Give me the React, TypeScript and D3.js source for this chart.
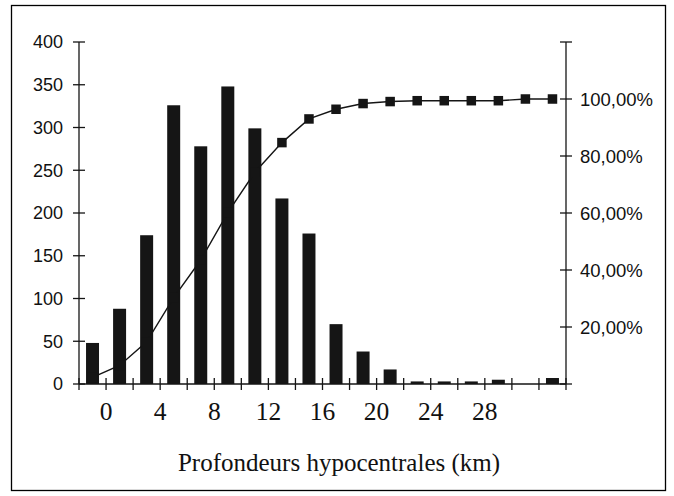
import React from "react";
import * as d3 from "d3";

const categories = ["-2", "0", "2", "4", "6", "8", "10", "12", "14", "16", "18", "20", "22", "24", "26", "28", "30", "32"];
const counts = [48, 88, 174, 326, 278, 348, 299, 217, 176, 70, 38, 17, 3, 3, 3, 5, 0, 7];
const cumulativePct = [2.3, 6.5, 14.8, 30.3, 43.5, 60.1, 74.3, 84.7, 93.0, 96.4, 98.4, 99.1, 99.4, 99.4, 99.4, 99.4, 100, 100];
const leftTicks = [0, 50, 100, 150, 200, 250, 300, 350, 400];
const rightTicks = [0, 20, 40, 60, 80, 100, 120];
const rightLabelTicks = [20, 40, 60, 80, 100];
const xTickLabels = ["0", "4", "8", "12", "16", "20", "24", "28"];
const xTitle = "Profondeurs hypocentrales (km)";

const W = 674;
const H = 496;
const left = 79;
const right = 566;
const top = 42;
const bottom = 384;

export default function App() {
  const x = d3.scaleBand<string>().domain(categories).range([left, right]).paddingInner(0).paddingOuter(0);
  const yL = d3.scaleLinear().domain([0, 400]).range([bottom, top]);
  const yR = d3.scaleLinear().domain([0, 120]).range([bottom, top]);
  const bw = x.bandwidth();
  const barW = bw * 0.48;
  const cx = (c: string) => (x(c) as number) + bw / 2;
  const boundaries = d3.range(categories.length + 1).map((i) => left + i * bw);
  const line = d3
    .line<number>()
    .x((_, i) => cx(categories[i]))
    .y((d) => yR(d));
  const fmtPct = (v: number) => v.toFixed(2).replace(".", ",") + "%";
  const ms = 9.5;
  const sans = "'Liberation Sans', Arial, sans-serif";
  const serif = "'Liberation Serif', 'Times New Roman', serif";
  const ink = "#151515";

  return (
    <svg width={W} height={H} style={{ position: "absolute", left: 0, top: 0, background: "#fff" }}>
      <rect x={11.5} y={5.5} width={654} height={485} fill="#fff" stroke="#000" strokeWidth={1.3} />
      {/* bars */}
      {counts.map((v, i) => (
        <rect key={i} x={cx(categories[i]) - barW / 2} y={yL(v)} width={barW} height={bottom - yL(v)} fill={ink} />
      ))}
      {/* cumulative line */}
      <path d={line(cumulativePct) || ""} fill="none" stroke={ink} strokeWidth={1.4} />
      {cumulativePct.map((v, i) => (
        <rect key={i} x={cx(categories[i]) - ms / 2} y={yR(v) - ms / 2} width={ms} height={ms} fill={ink} />
      ))}
      {/* left axis */}
      <line x1={left} x2={left} y1={top} y2={bottom} stroke={ink} strokeWidth={1.3} />
      {leftTicks.map((t) => (
        <g key={t}>
          <line x1={left - 6} x2={left + 6} y1={yL(t)} y2={yL(t)} stroke={ink} strokeWidth={1.3} />
          <text x={63} y={yL(t)} dy="0.36em" textAnchor="end" fontFamily={sans} fontSize={18} fill="#111">
            {t}
          </text>
        </g>
      ))}
      {/* right axis */}
      <line x1={right} x2={right} y1={top} y2={bottom} stroke={ink} strokeWidth={1.3} />
      {rightTicks.map((t) => (
        <line key={t} x1={right - 6} x2={right + 6} y1={yR(t)} y2={yR(t)} stroke={ink} strokeWidth={1.3} />
      ))}
      {rightLabelTicks.map((t) => (
        <text key={t} x={580} y={yR(t)} dy="0.36em" textAnchor="start" fontFamily={sans} fontSize={18.5} fill="#111">
          {fmtPct(t)}
        </text>
      ))}
      {/* x axis */}
      <line x1={left} x2={right} y1={bottom} y2={bottom} stroke={ink} strokeWidth={1.3} />
      {boundaries.map((b, i) => (
        <line key={i} x1={b} x2={b} y1={bottom - 6} y2={bottom + 6} stroke={ink} strokeWidth={1.3} />
      ))}
      {xTickLabels.map((l, k) => (
        <text key={l} x={boundaries[1 + 2 * k]} y={420} textAnchor="middle" fontFamily={serif} fontSize={25.5} fill="#111">
          {l}
        </text>
      ))}
      <text x={339} y={471} textAnchor="middle" fontFamily={serif} fontSize={25} fill="#111">
        {xTitle}
      </text>
    </svg>
  );
}
